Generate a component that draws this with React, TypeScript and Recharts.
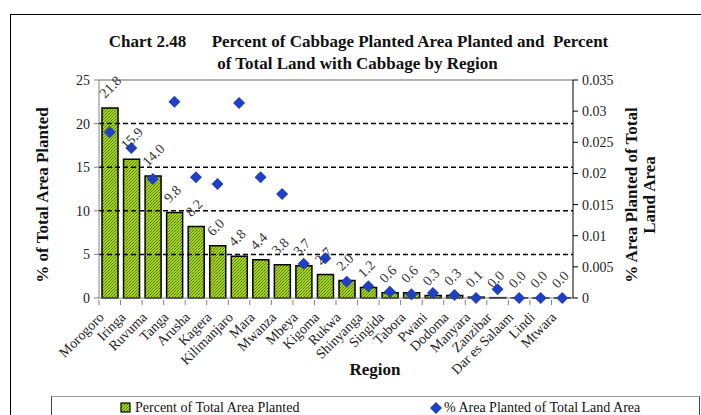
import React from "react";
import {
  ComposedChart,
  Bar,
  Scatter,
  XAxis,
  YAxis,
  ReferenceLine,
  LabelList,
} from "recharts";

const regions = [
  "Morogoro", "Iringa", "Ruvuma", "Tanga", "Arusha", "Kagera", "Kilimanjaro",
  "Mara", "Mwanza", "Mbeya", "Kigoma", "Rukwa", "Shinyanga", "Singida",
  "Tabora", "Pwani", "Dodoma", "Manyara", "Zanzibar", "Dar es Salaam",
  "Lindi", "Mtwara",
];

// % of total area planted (left axis); the last ones round to 0.0
const areaPlanted = [
  21.8, 15.9, 14.0, 9.8, 8.2, 6.0, 4.8, 4.4, 3.8, 3.7, 2.7, 2.0, 1.2, 0.6,
  0.6, 0.3, 0.3, 0.1, 0.04, 0.01, 0.01, 0.01,
];

// % area planted of total land area (right axis)
const landShare = [
  0.0266, 0.0241, 0.0191, 0.0315, 0.0194, 0.0183, 0.0313, 0.0194, 0.0167,
  0.0055, 0.0064, 0.0026, 0.0019, 0.001, 0.0006, 0.0008, 0.0005, 0.0, 0.0014,
  0.0, 0.0, 0.0,
];

const leftTicks = [0, 5, 10, 15, 20, 25];
const rightTicks = [0, 0.005, 0.01, 0.015, 0.02, 0.025, 0.03, 0.035];
const gridValues = [5, 10, 15, 20];

const data = regions.map((region, i) => ({
  region,
  area: areaPlanted[i],
  land: landShare[i],
}));

const FONT = "'Liberation Serif', 'Times New Roman', serif";
const BLUE = "#1f3fc4";
const BAND = 474 / regions.length;

const CategoryTick = (props: any) => {
  const { x, y, payload } = props;
  const tx = x - 5;
  const ty = y + 18;
  return (
    <g>
      <line x1={x - BAND / 2} x2={x - BAND / 2} y1={y} y2={y + 5} stroke="#808080" />
      <text
        x={tx}
        y={ty}
        transform={`rotate(-45 ${tx} ${ty})`}
        textAnchor="end"
        fontSize={14}
        fill="#222"
        style={{ fontFamily: FONT }}
      >
        {payload.value}
      </text>
    </g>
  );
};

const ValueTick = (props: any) => {
  const { x, y, payload, textAnchor } = props;
  return (
    <text x={x} y={y} dy={5} textAnchor={textAnchor} fontSize={14} fill="#222" style={{ fontFamily: FONT }}>
      {payload.value}
    </text>
  );
};

const BarValueLabel = (props: any) => {
  const { x, y, width, value } = props;
  const tx = x + width / 2 - 5;
  const ty = y - 9;
  return (
    <text
      x={tx}
      y={ty}
      transform={`rotate(-45 ${tx} ${ty})`}
      textAnchor="start"
      fontSize={14}
      fill="#333"
      style={{ fontFamily: FONT }}
    >
      {Number(value).toFixed(1)}
    </text>
  );
};

const Diamond = (props: any) => {
  const { cx, cy } = props;
  if (cx == null || cy == null) return null;
  const r = 6;
  return (
    <polygon
      points={`${cx},${cy - r} ${cx + r},${cy} ${cx},${cy + r} ${cx - r},${cy}`}
      fill={BLUE}
    />
  );
};

export default function App() {
  return (
    <div style={{ position: "absolute", left: 0, top: 0, width: 701, height: 415, background: "#fff", fontFamily: FONT, overflow: "hidden" }}>
      <ComposedChart width={701} height={415} data={data} margin={{ top: 80, right: 0, bottom: 0, left: 0 }}>
        <defs>
          <pattern id="greenCheck" width="3" height="3" patternUnits="userSpaceOnUse">
            <rect width="3" height="3" fill="#a8d418" />
            <rect x="0" y="0" width="1" height="1" fill="#4f7a00" />
            <rect x="2" y="1" width="1" height="1" fill="#6d9a00" />
            <rect x="1" y="2" width="1" height="1" fill="#4f7a00" />
          </pattern>
        </defs>
        <XAxis
          dataKey="region"
          height={117}
          interval={0}
          tickLine={false}
          tickSize={0}
          axisLine={{ stroke: "#808080" }}
          tick={<CategoryTick />}
        />
        <YAxis
          yAxisId="left"
          width={99}
          domain={[0, 25]}
          ticks={leftTicks}
          tickSize={5}
          tickMargin={4}
          axisLine={{ stroke: "#808080" }}
          tickLine={{ stroke: "#808080" }}
          tick={<ValueTick />}
        />
        <YAxis
          yAxisId="right"
          orientation="right"
          width={128}
          domain={[0, 0.035]}
          ticks={rightTicks}
          tickSize={5}
          tickMargin={4}
          axisLine={{ stroke: "#000" }}
          tickLine={{ stroke: "#000" }}
          tick={<ValueTick />}
        />
        {gridValues.map((v) => (
          <ReferenceLine key={v} yAxisId="left" y={v} stroke="#000" strokeWidth={1.5} strokeDasharray="5 3" />
        ))}
        <ReferenceLine yAxisId="left" y={25} stroke="#9a9a9a" strokeWidth={1.5} />
        <Bar
          yAxisId="left"
          dataKey="area"
          barSize={16}
          fill="url(#greenCheck)"
          stroke="#000"
          strokeWidth={1.5}
          isAnimationActive={false}
        >
          <LabelList dataKey="area" content={<BarValueLabel />} />
        </Bar>
        <Scatter yAxisId="right" dataKey="land" shape={<Diamond />} isAnimationActive={false} />
      </ComposedChart>

      {/* frame, titles and legend */}
      <div style={{ position: "absolute", left: 10, top: 14, width: 700, height: 420, borderLeft: "1.5px solid #000", borderTop: "1.5px solid #000" }} />
      <div style={{ position: "absolute", left: 0, width: 701, top: 31, textAlign: "center", fontWeight: "bold", fontSize: 17, lineHeight: "22px", whiteSpace: "pre", color: "#111" }}>
        <div style={{ paddingLeft: 16 }}>{"Chart 2.48      Percent of Cabbage Planted Area Planted and  Percent"}</div>
        <div style={{ paddingLeft: 14 }}>of Total Land with Cabbage by Region</div>
      </div>
      <div style={{ position: "absolute", left: 43, top: 195, transform: "translate(-50%, -50%) rotate(-90deg)", fontWeight: "bold", fontSize: 17, whiteSpace: "nowrap", color: "#111" }}>
        % of Total Area Planted
      </div>
      <div style={{ position: "absolute", left: 641, top: 195, transform: "translate(-50%, -50%) rotate(-90deg)", fontWeight: "bold", fontSize: 17, lineHeight: "18px", whiteSpace: "nowrap", textAlign: "center", color: "#111" }}>
        % Area Planted of Total
        <br />
        Land Area
      </div>
      <div style={{ position: "absolute", left: 375, top: 370, transform: "translate(-50%, -50%)", fontWeight: "bold", fontSize: 17, color: "#111" }}>
        Region
      </div>
      <div style={{ position: "absolute", left: 51, top: 396, width: 647, height: 30, borderTop: "1.5px solid #9a9a9a", borderLeft: "1.5px solid #444", borderRight: "1.5px solid #444" }} />
      <div style={{ position: "absolute", left: 120, top: 400, display: "flex", alignItems: "center", fontSize: 14, color: "#111", whiteSpace: "nowrap" }}>
        <svg width={12} height={12} style={{ marginRight: 3 }}>
          <rect x={1} y={1} width={9} height={9} fill="url(#greenCheck)" stroke="#000" strokeWidth={1.2} />
        </svg>
        Percent of Total Area Planted
      </div>
      <div style={{ position: "absolute", left: 429, top: 400, display: "flex", alignItems: "center", fontSize: 14, color: "#111", whiteSpace: "nowrap" }}>
        <svg width={14} height={14} style={{ marginRight: 1 }}>
          <polygon points="7,1 13,7 7,13 1,7" fill={BLUE} />
        </svg>
        % Area Planted of Total Land Area
      </div>
    </div>
  );
}
